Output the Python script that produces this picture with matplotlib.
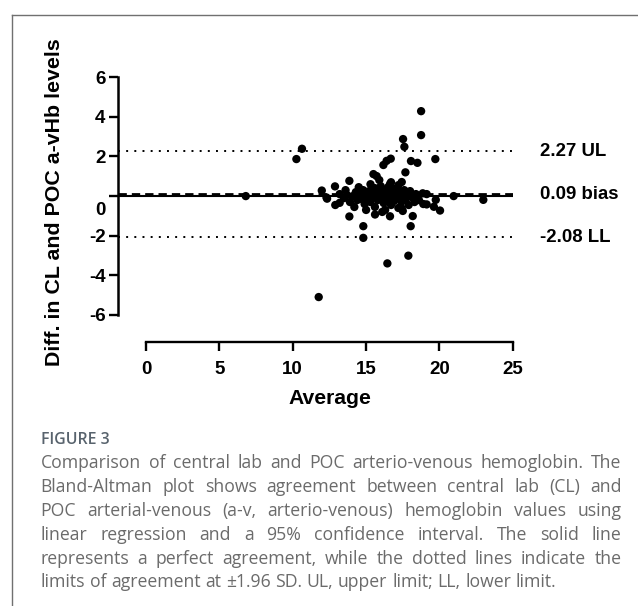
import numpy as np
import matplotlib
matplotlib.use("Agg")
import matplotlib.pyplot as plt
from matplotlib.lines import Line2D
from matplotlib import transforms

# ── Data (Bland-Altman: average vs difference) ────────────────────────────────
avg_values = [
    18.75, 18.75, 17.52, 17.61, 10.63, 10.25, 19.72, 18.06, 18.50, 16.68,
    16.40, 16.18, 17.68, 15.50, 15.72, 13.86, 15.90, 17.43, 16.63, 11.98,
    12.88, 6.80, 12.34, 20.97, 22.99, 12.90, 13.20, 13.86, 15.61, 16.63,
    18.18, 14.81, 18.04, 14.81, 17.88, 16.45, 11.77, 19.62, 20.04, 19.13,
    18.90, 19.75, 18.86, 19.13, 17.43, 12.30,
    # dense cluster around the bias line
    13.2, 13.5, 13.7, 13.9, 14.1, 14.3, 14.4, 14.6, 14.7, 14.8,
    14.9, 15.0, 15.1, 15.2, 15.3, 15.4, 15.5, 15.6, 15.6, 15.7,
    15.8, 15.9, 16.0, 16.0, 16.1, 16.2, 16.3, 16.3, 16.4, 16.5,
    16.5, 16.6, 16.7, 16.8, 16.9, 16.9, 17.0, 17.1, 17.2, 17.2,
    17.3, 17.4, 17.5, 17.6, 17.7, 17.8, 17.9, 18.0, 18.1, 18.3,
    18.4, 18.6, 14.2, 15.0, 16.1, 17.5, 14.5, 13.6, 15.3, 16.7,
]
diff_values = [
    4.29, 3.08, 2.88, 2.49, 2.39, 1.87, 1.87, 1.77, 1.68, 1.89,
    1.78, 1.57, 1.20, 1.11, 1.01, 0.77, 0.81, 0.71, 0.61, 0.28,
    0.49, 0.00, -0.13, 0.00, -0.19, -0.45, -0.34, -1.03, -0.93, -1.02,
    -1.01, -1.52, -1.52, -2.11, -3.01, -3.40, -5.10, -0.54, -0.73, -0.42,
    -0.40, -0.19, 0.14, 0.10, -0.62, -0.07,
    0.10, -0.10, 0.05, -0.30, 0.00, 0.20, -0.20, 0.10, -0.15, 0.30,
    -0.40, 0.05, -0.10, 0.25, -0.30, 0.10, -0.05, 0.40, -0.55, 0.00,
    -0.20, 0.20, -0.10, 0.50, 0.10, -0.35, 0.30, -0.70, 0.00, -0.20,
    0.45, 0.15, -0.45, 0.05, 0.35, -0.25, 0.10, -0.10, 0.55, -0.60,
    0.20, -0.30, 0.00, 0.30, -0.15, 0.10, -0.45, 0.25, -0.05, -0.30,
    0.10, -0.20, -0.55, -0.70, -0.80, -0.75, 0.45, 0.30, 0.60, 0.70,
]
bias = 0.09
upper_limit = 2.27
lower_limit = -2.08
limit_labels = ["2.27 UL", "0.09 bias", "-2.08 LL"]

x_ticks = [0, 5, 10, 15, 20, 25]
y_ticks = [-6, -4, -2, 0, 2, 4, 6]

caption_title = "FIGURE 3"
caption_lines = [
    "Comparison of central lab and POC arterio-venous hemoglobin. The",
    "Bland-Altman plot shows agreement between central lab (CL) and",
    "POC arterial-venous (a-v, arterio-venous) hemoglobin values using",
    "linear regression and a 95% confidence interval. The solid line",
    "represents a perfect agreement, while the dotted lines indicate the",
    "limits of agreement at \u00b11.96 SD. UL, upper limit; LL, lower limit.",
]

plt.rcParams["font.family"] = ["Liberation Sans", "DejaVu Sans"]

W, H = 638, 606
fig = plt.figure(figsize=(W / 100, H / 100), dpi=100)

# axes placed in pixels: y spine at x=118, x axis at y=342
x_min, y_min = -1.89, -7.37
ax = fig.add_axes([118.3 / W, 1 - 342 / H, 394.5 / W, 264.7 / H])
ax.set_xlim(x_min, 25)
ax.set_ylim(y_min, 6)

# ── Reference lines ──────────────────────────────────────────────────────────
ax.plot([x_min, 25], [0, 0], color="black", lw=1.5, solid_capstyle="butt", zorder=2)
ax.plot([x_min, 25], [bias, bias], color="black", lw=2.0,
        linestyle=(0, (3.0, 1.8)), dash_capstyle="butt", zorder=2)
for lim in (upper_limit, lower_limit):
    ax.plot([x_min, 25], [lim, lim], color="black", lw=1.4,
            linestyle=(0, (1, 3.2)), zorder=2)

ax.scatter(avg_values, diff_values, s=36, color="black", edgecolors="none",
           zorder=3, clip_on=False)

# ── Axes styling (GraphPad look: detached axes) ─────────────────────────────
for side in ("top", "right"):
    ax.spines[side].set_visible(False)
ax.spines["left"].set_bounds(-6, 6)
ax.spines["bottom"].set_bounds(0, 25)
ax.spines["left"].set_linewidth(1.8)
ax.spines["bottom"].set_linewidth(1.7)
ax.spines["left"].set_capstyle("projecting")
ax.spines["bottom"].set_capstyle("projecting")

ax.set_xticks(x_ticks)
ax.set_yticks(y_ticks)
ax.set_yticklabels([str(v) for v in y_ticks])
ax.tick_params(axis="both", direction="out", width=1.7, length=6.3,
               labelsize=13.5)
ax.tick_params(axis="x", pad=7.5)
ax.tick_params(axis="y", pad=3)
for lab in ax.get_xticklabels() + ax.get_yticklabels():
    lab.set_fontweight("bold")

# the "0" label sits below the bias line in the original
zero_lab = ax.get_yticklabels()[y_ticks.index(0)]
zero_lab.set_transform(zero_lab.get_transform() +
                       transforms.ScaledTranslation(0, -12 / 100, fig.dpi_scale_trans))

# right-hand limit labels
for val, txt in zip([upper_limit, bias, lower_limit], limit_labels):
    ax.text((540 - 118.3) / 394.5, val, txt, transform=ax.get_yaxis_transform(),
            ha="left", va="center", fontsize=13.4, fontweight="bold")

fig.text(55 / W, 1 - 202 / H, "Diff. in CL and POC a-vHb levels", rotation=90,
         ha="center", va="center", fontsize=15.4, fontweight="bold")
fig.text(330 / W, 1 - 399 / H, "Average", ha="center", va="center",
         fontsize=15.2, fontweight="bold")

# ── Frame around the figure panel ────────────────────────────────────────────
frame_kw = dict(color="#707070", lw=1.0, transform=fig.transFigure)
fig.add_artist(Line2D([11.7 / W, 11.7 / W], [1 - 14.7 / H, 0], **frame_kw))
fig.add_artist(Line2D([11.7 / W, 1], [1 - 14.7 / H, 1 - 14.7 / H], **frame_kw))

# ── Caption (justified) ──────────────────────────────────────────────────────
cap_family = ["Open Sans", "DejaVu Sans"]
fig.text(41 / W, 1 - 444 / H, caption_title, ha="left", va="baseline",
         fontsize=11.4, color="#58636d", family=cap_family,
         fontweight="semibold")

cap_kw = dict(fontsize=12.7, color="#6b6b6b", family=cap_family,
              va="baseline", ha="left")
renderer = fig.canvas.get_renderer()
x_left, x_right = 40.7, 621.3
space_probe = fig.text(0, 0, "a a", **cap_kw)
nospace_probe = fig.text(0, 0, "aa", **cap_kw)
space_w = (space_probe.get_window_extent(renderer).width -
           nospace_probe.get_window_extent(renderer).width)
space_probe.remove()
nospace_probe.remove()

for i, line in enumerate(caption_lines):
    baseline = 468.3 + i * 23.8
    words = line.split(" ")
    texts = [fig.text(0, 1 - baseline / H, w, **cap_kw) for w in words]
    widths = [t.get_window_extent(renderer).width for t in texts]
    if i == len(caption_lines) - 1:
        gap = space_w
    else:
        gap = (x_right - x_left - sum(widths)) / (len(words) - 1)
    x = x_left
    for t, w in zip(texts, widths):
        t.set_x(x / W)
        x += w + gap

fig.savefig("out.png", dpi=100)
